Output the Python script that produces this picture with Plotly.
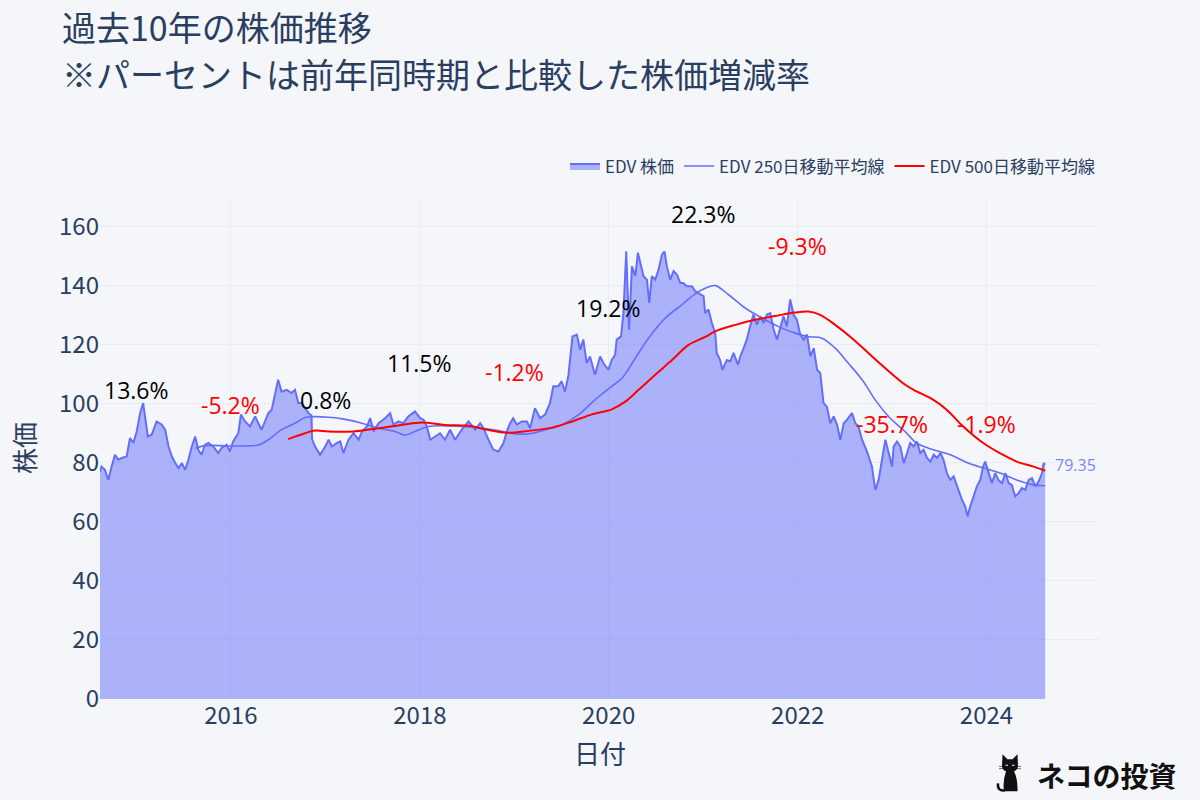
import base64
import plotly.graph_objects as go

# ---------------- data ----------------
price_dates = [
    "2014-08-13", "2014-08-19", "2014-09-01", "2014-09-14", "2014-09-27", "2014-10-10", "2014-10-23",
    "2014-11-05", "2014-11-24", "2014-12-07", "2014-12-20", "2015-01-02", "2015-01-15", "2015-01-27",
    "2015-02-03", "2015-02-14", "2015-03-01", "2015-03-20", "2015-04-09", "2015-04-22", "2015-05-05",
    "2015-05-18", "2015-05-31", "2015-06-13", "2015-06-26", "2015-07-08", "2015-07-21", "2015-08-03",
    "2015-08-16", "2015-08-28", "2015-09-10", "2015-09-23", "2015-10-06", "2015-10-25", "2015-11-13",
    "2015-11-26", "2015-12-16", "2015-12-28", "2016-01-10", "2016-01-30", "2016-02-09", "2016-02-25",
    "2016-03-15", "2016-04-04", "2016-04-16", "2016-04-29", "2016-05-12", "2016-05-25", "2016-06-07",
    "2016-06-20", "2016-07-02", "2016-07-15", "2016-08-04", "2016-08-23", "2016-09-05", "2016-09-18",
    "2016-10-01", "2016-10-27", "2016-11-08", "2016-11-10", "2016-11-22", "2016-12-11", "2016-12-31",
    "2017-01-13", "2017-01-26", "2017-02-14", "2017-02-27", "2017-03-11", "2017-03-31", "2017-04-19",
    "2017-05-09", "2017-05-22", "2017-06-10", "2017-06-23", "2017-07-06", "2017-07-25", "2017-08-13",
    "2017-09-08", "2017-09-21", "2017-10-10", "2017-10-29", "2017-11-17", "2017-12-13", "2018-01-02",
    "2018-01-15", "2018-01-28", "2018-02-10", "2018-03-01", "2018-03-20", "2018-04-08", "2018-04-28",
    "2018-05-17", "2018-06-12", "2018-07-08", "2018-08-03", "2018-08-22", "2018-09-04", "2018-09-23",
    "2018-10-12", "2018-11-01", "2018-11-20", "2018-12-03", "2018-12-16", "2018-12-28", "2019-01-11",
    "2019-01-30", "2019-02-19", "2019-03-03", "2019-03-22", "2019-04-11", "2019-04-30", "2019-05-19",
    "2019-06-01", "2019-06-20", "2019-07-03", "2019-07-16", "2019-07-29", "2019-08-14", "2019-08-31",
    "2019-09-13", "2019-09-25", "2019-10-08", "2019-10-21", "2019-11-09", "2019-11-29", "2019-12-12",
    "2019-12-31", "2020-01-13", "2020-01-26", "2020-02-01", "2020-02-18", "2020-02-27", "2020-03-09",
    "2020-03-15", "2020-03-20", "2020-03-31", "2020-04-13", "2020-04-23", "2020-05-02", "2020-05-15",
    "2020-05-28", "2020-06-06", "2020-06-16", "2020-06-29", "2020-07-12", "2020-07-25", "2020-08-04",
    "2020-08-13", "2020-08-26", "2020-09-08", "2020-09-21", "2020-10-04", "2020-10-16", "2020-10-29",
    "2020-11-18", "2020-12-01", "2020-12-14", "2021-01-02", "2021-01-08", "2021-01-21", "2021-02-03",
    "2021-02-16", "2021-02-22", "2021-03-07", "2021-03-16", "2021-04-02", "2021-04-15", "2021-04-28",
    "2021-05-15", "2021-05-24", "2021-06-06", "2021-06-18", "2021-07-01", "2021-07-14", "2021-07-27",
    "2021-08-09", "2021-08-22", "2021-09-04", "2021-09-17", "2021-09-30", "2021-10-13", "2021-10-26",
    "2021-11-07", "2021-11-20", "2021-12-03", "2021-12-16", "2021-12-29", "2022-01-11", "2022-01-24",
    "2022-02-06", "2022-02-19", "2022-03-04", "2022-03-17", "2022-03-29", "2022-04-11", "2022-04-24",
    "2022-05-07", "2022-05-20", "2022-06-02", "2022-06-15", "2022-06-28", "2022-07-11", "2022-07-30",
    "2022-08-12", "2022-08-24", "2022-09-07", "2022-09-26", "2022-10-15", "2022-10-28", "2022-11-10",
    "2022-11-23", "2022-12-06", "2022-12-19", "2023-01-01", "2023-01-07", "2023-01-20", "2023-02-02",
    "2023-02-15", "2023-02-28", "2023-03-12", "2023-03-25", "2023-04-07", "2023-04-20", "2023-05-03",
    "2023-05-16", "2023-05-29", "2023-06-11", "2023-06-24", "2023-07-07", "2023-07-19", "2023-08-01",
    "2023-08-14", "2023-08-27", "2023-09-09", "2023-09-28", "2023-10-11", "2023-10-20", "2023-10-30",
    "2023-11-12", "2023-11-25", "2023-12-08", "2023-12-19", "2023-12-27", "2024-01-09", "2024-01-22",
    "2024-02-04", "2024-02-16", "2024-03-01", "2024-03-14", "2024-03-27", "2024-04-08", "2024-04-21",
    "2024-05-04", "2024-05-17", "2024-05-30", "2024-06-12", "2024-06-25", "2024-07-08", "2024-07-21",
    "2024-08-03", "2024-08-09", "2024-08-15",
]
price_values = [
    77.0, 78.7, 77.6, 74.2, 78.7, 82.7, 81.0,
    81.6, 82.1, 88.4, 86.7, 90.6, 96.8, 100.2,
    95.7, 88.9, 89.5, 94.0, 92.9, 91.2, 85.5,
    82.1, 79.9, 78.2, 79.9, 77.6, 81.0, 85.5,
    88.9, 84.4, 82.7, 86.1, 86.7, 85.5, 83.3,
    85.0, 86.1, 83.8, 87.2, 90.1, 96.3, 94.0,
    92.3, 95.7, 93.4, 91.2, 94.0, 96.8, 98.0,
    103.6, 108.1, 104.1, 104.7, 103.6, 104.7, 100.2,
    100.2, 96.8, 96.0, 88.0, 85.5, 82.7, 85.5,
    87.8, 85.5, 86.7, 87.2, 83.3, 87.8, 90.0,
    87.8, 90.6, 92.3, 95.1, 90.6, 93.4, 94.6,
    96.8, 92.9, 94.0, 93.4, 95.7, 97.4, 95.1,
    94.6, 92.3, 87.8, 88.9, 90.0, 87.8, 91.2,
    87.8, 91.2, 94.0, 91.2, 93.4, 91.7, 87.8,
    84.4, 83.8, 86.6, 90.6, 93.4, 95.1, 92.9,
    94.0, 94.0, 91.7, 98.5, 95.1, 96.3, 100.2,
    105.9, 105.9, 107.6, 104.1, 109.3, 122.8, 123.4,
    118.3, 121.7, 113.8, 116.0, 109.8, 116.0, 113.7,
    111.5, 114.8, 116.6, 121.7, 122.8, 130.7, 151.6,
    136.4, 125.1, 146.5, 143.2, 151.1, 147.7, 143.2,
    142.0, 134.1, 143.2, 142.0, 145.4, 150.5, 151.6,
    146.5, 142.0, 144.9, 143.7, 140.9, 140.9, 139.8,
    139.8, 138.1, 137.4, 136.4, 130.7, 131.9, 127.3,
    124.0, 117.2, 114.8, 111.5, 114.8, 114.3, 117.2,
    113.2, 116.0, 118.8, 121.7, 126.2, 130.2, 126.8,
    129.6, 127.3, 130.2, 130.7, 125.1, 121.7, 126.2,
    129.6, 126.2, 135.3, 130.2, 128.4, 123.4, 121.7,
    123.4, 116.0, 118.8, 111.5, 110.4, 100.2, 99.0,
    93.4, 95.7, 92.9, 87.8, 93.4, 94.6, 96.8,
    93.4, 92.3, 87.8, 83.8, 78.7, 70.8, 74.2,
    81.0, 87.8, 83.3, 78.7, 85.5, 87.2, 85.5,
    79.9, 83.3, 86.7, 85.5, 87.2, 83.3, 84.4,
    81.6, 80.4, 82.7, 81.6, 83.3, 81.0, 76.5,
    74.2, 75.4, 72.0, 67.5, 65.2, 61.8, 65.2,
    68.6, 72.0, 74.2, 78.7, 80.4, 76.5, 73.1,
    76.5, 74.2, 73.1, 76.5, 73.1, 72.5, 68.6,
    69.7, 71.4, 70.8, 74.2, 74.8, 72.0, 73.7,
    76.5, 79.9, 79.35,
]

ma250_dates = [
    "2015-08-16", "2015-09-23", "2015-12-22", "2016-02-25", "2016-04-16", "2016-05-25", "2016-07-15",
    "2016-09-05", "2016-10-14", "2016-11-09", "2017-01-13", "2017-03-18", "2017-05-22", "2017-07-25",
    "2017-09-27", "2017-11-05", "2017-12-13", "2018-02-03", "2018-06-12", "2018-10-19", "2019-01-05",
    "2019-02-24", "2019-04-30", "2019-07-03", "2019-09-06", "2019-11-09", "2020-01-13", "2020-02-21",
    "2020-04-13", "2020-06-03", "2020-08-07", "2020-10-10", "2020-12-01", "2021-01-08", "2021-02-16",
    "2021-04-09", "2021-06-12", "2021-08-16", "2021-10-19", "2021-12-22", "2022-02-12", "2022-04-05",
    "2022-05-26", "2022-07-16", "2022-09-07", "2022-10-28", "2022-12-19", "2023-02-21", "2023-04-07",
    "2023-06-10", "2023-08-14", "2023-10-17", "2023-12-21", "2024-02-23", "2024-04-27", "2024-07-01",
    "2024-08-15",
]
ma250_values = [
    84.9, 85.8, 85.7, 85.7, 86.0, 87.8, 91.2,
    93.4, 95.3, 95.6, 95.4, 94.7, 93.4, 91.7,
    90.6, 89.4, 90.6, 92.3, 92.3, 91.1, 89.8,
    89.8, 91.1, 92.8, 96.2, 101.3, 105.9, 108.6,
    115.4, 122.2, 129.0, 133.5, 137.2, 139.1, 140.0,
    136.9, 132.4, 129.0, 126.1, 123.9, 122.7, 122.2,
    118.8, 113.7, 108.1, 101.3, 95.6, 90.5, 86.6,
    84.4, 82.7, 80.1, 78.2, 76.5, 74.2, 72.5,
    72.2,
]

ma500_dates = [
    "2016-08-10", "2016-10-14", "2016-11-22", "2017-01-13", "2017-04-19", "2017-07-25", "2017-10-23",
    "2018-01-09", "2018-04-08", "2018-07-08", "2018-09-23", "2018-12-03", "2019-02-25", "2019-05-26",
    "2019-08-11", "2019-10-28", "2020-01-13", "2020-03-05", "2020-04-26", "2020-06-29", "2020-09-02",
    "2020-11-05", "2021-01-08", "2021-02-16", "2021-05-05", "2021-07-20", "2021-10-06", "2021-12-22",
    "2022-02-12", "2022-03-29", "2022-05-26", "2022-07-30", "2022-10-02", "2022-12-06", "2023-02-21",
    "2023-03-25", "2023-06-10", "2023-08-01", "2023-10-04", "2023-12-21", "2024-02-23", "2024-04-27",
    "2024-07-01", "2024-08-15",
]
ma500_values = [
    88.0, 90.0, 90.9, 90.6, 90.6, 91.7, 92.8,
    93.6, 92.8, 92.5, 91.1, 90.2, 90.8, 91.9,
    93.9, 96.4, 98.1, 100.7, 104.7, 109.8, 114.8,
    119.9, 122.6, 124.5, 126.7, 128.4, 129.7, 130.9,
    131.2, 130.1, 126.7, 122.2, 117.1, 112.0, 106.4,
    104.7, 101.3, 97.9, 92.2, 86.6, 83.2, 80.4,
    78.7, 77.3,
]

label_dates = ["2015-01-01", "2016-01-01", "2017-01-01", "2018-01-01", "2019-01-01",
               "2020-01-01", "2021-01-01", "2022-01-01", "2023-01-01", "2024-01-01"]
label_values = [104.7, 99.7, 101.4, 113.8, 110.9, 132.4, 164.1, 153.3, 93.2, 93.2]
label_texts = ["13.6%", "-5.2%", "0.8%", "11.5%", "-1.2%", "19.2%", "22.3%", "-9.3%", "-35.7%", "-1.9%"]

ticker = "EDV"
y_ticks = [0, 20, 40, 60, 80, 100, 120, 140, 160]
title_lines = ["過去10年の株価推移", "※パーセントは前年同時期と比較した株価増減率"]

# ---------------- figure ----------------
BG = "#f5f6fa"
FONT = "Noto Sans CJK JP"
TXT = "#2a3f5f"

fig = go.Figure()
fig.add_trace(go.Scatter(
    x=price_dates, y=price_values, name=f"{ticker} 株価", mode="lines",
    line=dict(color="#636efa", width=2), fill="tozeroy",
    fillcolor="rgba(99,110,250,0.5)",
))
fig.add_trace(go.Scatter(
    x=ma250_dates, y=ma250_values, name=f"{ticker} 250日移動平均線", mode="lines",
    line=dict(color="#636efa", width=1.6, shape="spline"),
))
fig.add_trace(go.Scatter(
    x=ma500_dates, y=ma500_values, name=f"{ticker} 500日移動平均線", mode="lines",
    line=dict(color="red", width=2, shape="spline"),
))

for d, v, t in zip(label_dates, label_values, label_texts):
    fig.add_annotation(
        x=d, y=v, text=t, showarrow=False,
        font=dict(size=23, color="red" if t.startswith("-") else "black", family="Open Sans"),
    )

fig.add_annotation(
    x=price_dates[-1], y=price_values[-1], text=f"{price_values[-1]:.2f}",
    showarrow=False, xanchor="left", xshift=8,
    font=dict(size=16, color="rgba(99,110,250,0.85)", family="Open Sans"),
)

# title lines
fig.add_annotation(
    xref="paper", yref="paper", x=-0.04, y=1.3406, text=title_lines[0],
    showarrow=False, xanchor="left", yanchor="middle",
    font=dict(size=34, color=TXT, family=FONT),
)
fig.add_annotation(
    xref="paper", yref="paper", x=-0.04, y=1.247, text=title_lines[1],
    showarrow=False, xanchor="left", yanchor="middle",
    font=dict(size=34, color=TXT, family=FONT),
)

# logo (simple cat silhouette + text)
cat_svg = (
    '<svg xmlns="http://www.w3.org/2000/svg" viewBox="0 0 30 42">'
    '<path d="M7,14 L7.5,3 L12.5,8 L17.5,8 L22.5,3 L23,14 Q23,19 19,20 '
    'Q23,28 22.5,40 L9,40 Q7.5,30 11,20 Q7,19 7,14 Z" fill="#111"/>'
    '<path d="M10,39 Q2,40 3,32" stroke="#111" stroke-width="2.5" fill="none"/>'
    '<path d="M10.5,14 L13,14 M17,14 L19.5,14" stroke="#fff" stroke-width="1"/>'
    '<path d="M4,15 L9,15.5 M21,15.5 L26,15 M4,17.5 L9,17 M21,17 L26,17.5" stroke="#111" stroke-width="0.6"/>'
    '</svg>'
)
cat_uri = "data:image/svg+xml;base64," + base64.b64encode(cat_svg.encode()).decode()
fig.add_layout_image(dict(
    source=cat_uri, xref="paper", yref="paper", x=0.895, y=-0.104,
    sizex=0.03, sizey=0.084, xanchor="left", yanchor="top", sizing="contain", layer="above",
))
fig.add_annotation(
    xref="paper", yref="paper", x=0.935, y=-0.151, text="<b>ネコの投資</b>",
    showarrow=False, xanchor="left", yanchor="middle",
    font=dict(size=28, color="#111", family=FONT),
)

fig.update_layout(
    width=1200, height=800,
    template="plotly_white",
    paper_bgcolor=BG, plot_bgcolor=BG,
    font=dict(family=FONT, color=TXT),
    margin=dict(l=100, r=100, t=197, b=101),
    legend=dict(
        orientation="h", x=1, xanchor="right", y=1.025, yanchor="bottom",
        font=dict(size=17, family=FONT), bgcolor="rgba(0,0,0,0)",
    ),
    showlegend=True,
)
fig.update_xaxes(
    title=dict(text="日付", font=dict(size=26, family=FONT)),
    range=["2014-08-13", "2025-03-15"],
    dtick="M24", tickformat="%Y",
    tickfont=dict(size=24, family=FONT),
    gridcolor="#e8ecf4", showline=False, zeroline=False,
)
fig.update_yaxes(
    title=dict(text="株価", font=dict(size=26, family=FONT)),
    range=[0, 170], tickvals=y_ticks,
    tickfont=dict(size=24, family=FONT),
    gridcolor="#e8ecf4", zeroline=False,
)

fig.write_html(
    "out.html",
    config={"displayModeBar": False},
    post_script="document.body.style.margin='0';",
)
